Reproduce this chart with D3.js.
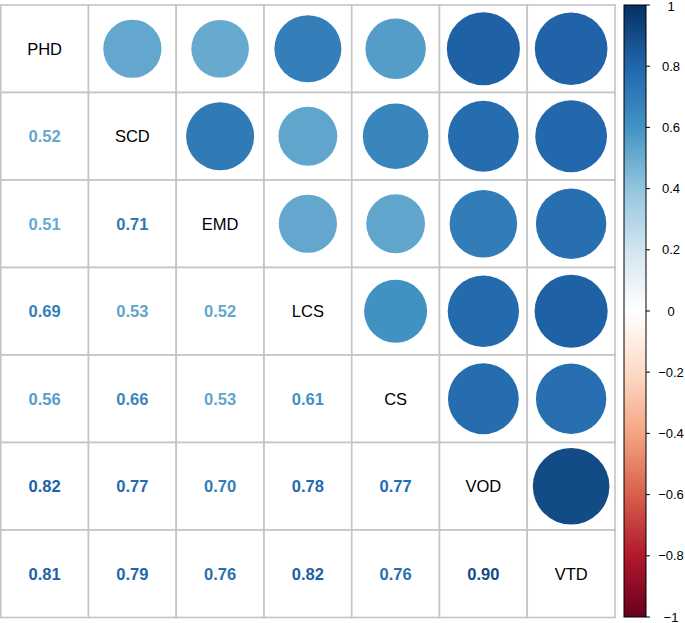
<!DOCTYPE html>
<html>
<head>
<meta charset="utf-8">
<script src="https://cdn.jsdelivr.net/npm/d3@7"></script>
<style>
  html, body { margin: 0; padding: 0; background: #fff; }
  svg { display: block; font-family: "Liberation Sans", Arial, sans-serif; }
</style>
</head>
<body>
<svg id="chart" width="685" height="623"></svg>
<script>
const vars = ["PHD", "SCD", "EMD", "LCS", "CS", "VOD", "VTD"];

// lower triangle, row by row (row i has i values)
const lower = [
  [],
  [0.52],
  [0.51, 0.71],
  [0.69, 0.53, 0.52],
  [0.56, 0.66, 0.53, 0.61],
  [0.82, 0.77, 0.70, 0.78, 0.77],
  [0.81, 0.79, 0.76, 0.82, 0.76, 0.90]
];

const barTicks = [-1, -0.8, -0.6, -0.4, -0.2, 0, 0.2, 0.4, 0.6, 0.8, 1];
const palette = ["#67001F", "#B2182B", "#D6604D", "#F4A582", "#FDDBC7", "#FFFFFF",
                 "#D1E5F0", "#92C5DE", "#4393C3", "#2166AC", "#053061"];

const svg = d3.select("#chart");

const gx = d3.scaleBand().domain(vars).range([0.75, 615]).paddingInner(0).paddingOuter(0);
const gy = d3.scaleBand().domain(vars).range([5, 617.5]);

const color = d3.scaleLinear()
  .domain(palette.map((_, i) => -1 + i * 0.2))
  .range(palette)
  .interpolate(d3.interpolateRgb);

const rad = d3.scaleSqrt().domain([0, 1]).range([0, gx.bandwidth() * 0.46]);

const corr = (i, j) => i === j ? 1 : (i > j ? lower[i][j] : lower[j][i]);

const cells = [];
vars.forEach((r, i) => vars.forEach((c, j) => cells.push({ i, j, r, c, v: corr(i, j) })));

// grid
svg.append("g").selectAll("rect")
  .data(cells)
  .join("rect")
  .attr("x", d => gx(d.c))
  .attr("y", d => gy(d.r))
  .attr("width", gx.bandwidth())
  .attr("height", gy.bandwidth())
  .attr("fill", "#fff")
  .attr("stroke", "#c4c4c4")
  .attr("stroke-width", 1.6);

const cx = d => gx(d.c) + gx.bandwidth() / 2;
const cy = d => gy(d.r) + gy.bandwidth() / 2;

// upper: circles
svg.append("g").selectAll("circle")
  .data(cells.filter(d => d.j > d.i))
  .join("circle")
  .attr("cx", cx)
  .attr("cy", cy)
  .attr("r", d => rad(Math.abs(d.v)))
  .attr("fill", d => color(d.v));

// lower: numbers
svg.append("g").selectAll("text")
  .data(cells.filter(d => d.j < d.i))
  .join("text")
  .attr("x", cx)
  .attr("y", cy)
  .attr("text-anchor", "middle")
  .attr("dominant-baseline", "central")
  .attr("font-size", 16.5)
  .attr("font-weight", "bold")
  .attr("fill", d => color(d.v))
  .text(d => d3.format(".2f")(d.v));

// diagonal: names
svg.append("g").selectAll("text")
  .data(cells.filter(d => d.j === d.i))
  .join("text")
  .attr("x", cx)
  .attr("y", cy)
  .attr("text-anchor", "middle")
  .attr("dominant-baseline", "central")
  .attr("font-size", 16.5)
  .attr("fill", "#000")
  .text(d => d.r);

// colour bar
const by = d3.scaleLinear().domain([-1, 1]).range([617, 5]);
const defs = svg.append("defs");
const grad = defs.append("linearGradient")
  .attr("id", "cbar")
  .attr("x1", 0).attr("y1", 1).attr("x2", 0).attr("y2", 0);
grad.selectAll("stop")
  .data(palette)
  .join("stop")
  .attr("offset", (_, i) => i / (palette.length - 1))
  .attr("stop-color", d => d);

svg.append("rect")
  .attr("x", 624)
  .attr("y", by(1))
  .attr("width", 22)
  .attr("height", by(-1) - by(1))
  .attr("fill", "url(#cbar)")
  .attr("stroke", "#000")
  .attr("stroke-width", 1);

const ticks = svg.append("g");
ticks.selectAll("line")
  .data(barTicks)
  .join("line")
  .attr("x1", 646).attr("x2", 650)
  .attr("y1", d => by(d)).attr("y2", d => by(d))
  .attr("stroke", "#000");
ticks.selectAll("text")
  .data(barTicks)
  .join("text")
  .attr("x", 671)
  .attr("y", d => Math.max(by(d), 6.2))
  .attr("text-anchor", "middle")
  .attr("dominant-baseline", "central")
  .attr("font-size", 13)
  .attr("fill", "#000")
  .text(d => d3.format("~g")(d));
</script>
</body>
</html>
